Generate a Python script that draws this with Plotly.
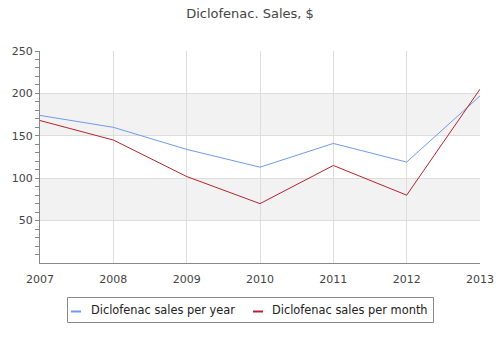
import plotly.graph_objects as go

years = [2007, 2008, 2009, 2010, 2011, 2012, 2013]
sales_per_year = [174, 160, 134, 113, 141, 119, 197]
sales_per_month = [168, 145, 102, 70, 115, 80, 205]
y_ticks = [50, 100, 150, 200, 250]
bands = [(50, 100), (150, 200)]

series = [
    ("Diclofenac sales per year", sales_per_year, "#6f9be8"),
    ("Diclofenac sales per month", sales_per_month, "#b8232a"),
]

# Plot-area geometry in pixels, used to place the boxed legend below the axes
W, H = 500, 350
ML, MR, MT, MB = 40, 20, 51, 87
PW, PH = W - ML - MR, H - MT - MB


def px_x(p):
    return (p - ML) / PW


def px_y(p):
    return (H - MB - p) / PH


fig = go.Figure()
for name, values, color in series:
    fig.add_trace(go.Scatter(x=years, y=values, mode="lines", name=name,
                             line=dict(color=color, width=1), showlegend=False))

for lo, hi in bands:
    fig.add_shape(type="rect", xref="paper", yref="y", x0=0, x1=1, y0=lo, y1=hi,
                  fillcolor="#f2f2f2", line=dict(width=0), layer="below")

# Legend: bordered box with a short swatch and label per series
fig.add_shape(type="rect", xref="paper", yref="paper",
              x0=px_x(67.5), x1=px_x(433.5), y0=px_y(322.5), y1=px_y(297.5),
              line=dict(color="#888", width=1), fillcolor="rgba(0,0,0,0)")
legend_items = [(71, 89), (253, 270)]
for (sx, tx), (name, _, color) in zip(legend_items, series):
    fig.add_shape(type="line", xref="paper", yref="paper",
                  x0=px_x(sx), x1=px_x(sx + 10), y0=px_y(311.5), y1=px_y(311.5),
                  line=dict(color=color, width=2))
    fig.add_annotation(xref="paper", yref="paper", x=px_x(tx), y=px_y(310),
                       xanchor="left", yanchor="middle", showarrow=False,
                       text=name, font=dict(size=11.4, color="#222"))

fig.update_layout(
    width=W, height=H,
    margin=dict(l=ML, r=MR, t=MT, b=MB, autoexpand=False),
    paper_bgcolor="white", plot_bgcolor="white",
    font=dict(family="DejaVu Sans", size=11, color="#444"),
    title=dict(text="Diclofenac. Sales, $", x=0.5, xanchor="center",
               y=1 - 13 / H, yanchor="middle",
               font=dict(size=13, color="#444")),
    showlegend=False,
    xaxis=dict(range=[2007, 2013], tickmode="array", tickvals=years,
               ticktext=[str(y) for y in years], showgrid=True, gridcolor="#dddddd",
               showline=True, linecolor="#888", ticks="", zeroline=False,
               automargin=False,
               ticklabelstandoff=6, tickfont=dict(size=11, color="#444")),
    yaxis=dict(range=[0, 250], tickmode="array", tickvals=y_ticks,
               showgrid=True, gridcolor="#dddddd", showline=True, linecolor="#888",
               ticks="outside", ticklen=4, tickcolor="#888", zeroline=False,
               automargin=False,
               tickfont=dict(size=11, color="#444"),
               minor=dict(tickvals=list(range(10, 250, 10)), ticks="outside",
                          ticklen=4, tickcolor="#888", showgrid=False)),
)

fig.write_html("out.html")
